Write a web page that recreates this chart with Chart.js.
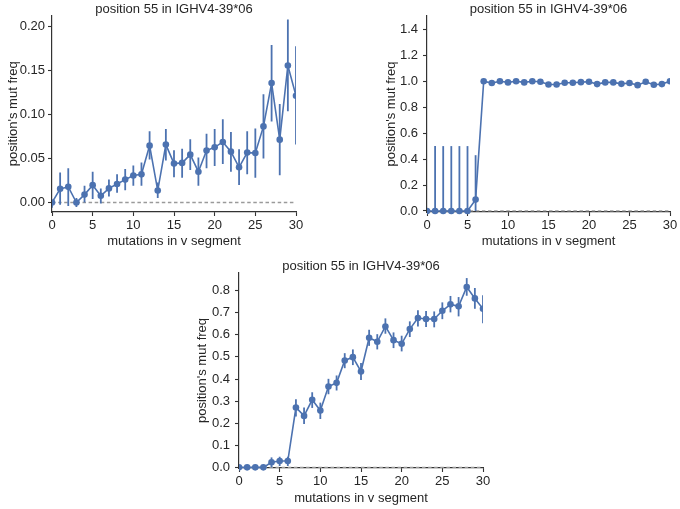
<!DOCTYPE html>
<html>
<head>
<meta charset="utf-8">
<script src="https://cdn.jsdelivr.net/npm/chart.js@4.4.1/dist/chart.umd.min.js"></script>
<style>
  html, body { margin: 0; padding: 0; background: #ffffff; }
  body { width: 680px; height: 509px; position: relative; overflow: hidden; }
  canvas { position: absolute; }
  #c1 { left: 0px; top: 0px; }
  #c2 { left: 378px; top: 0px; }
  #c3 { left: 185px; top: 253px; }
</style>
</head>
<body>
<canvas id="c1" width="310" height="252"></canvas>
<canvas id="c2" width="302" height="252"></canvas>
<canvas id="c3" width="315" height="256"></canvas>
<script>
// ---------------- data ----------------
const chartTitle = "position 55 in IGHV4-39*06";
const xLabel = "mutations in v segment";
const yLabel = "position's mut freq";

const mutations = [0,1,2,3,4,5,6,7,8,9,10,11,12,13,14,15,16,17,18,19,20,21,22,23,24,25,26,27,28,29,30];
const xTicks = [0,5,10,15,20,25,30];

// panel A (top left)
const freqA = [0,0.0155,0.0178,0,0.009,0.0197,0.0076,0.016,0.021,0.026,0.0306,0.032,0.0646,0.0136,0.0658,0.0442,0.045,0.0544,0.035,0.059,0.0627,0.0688,0.0578,0.040,0.0567,0.0563,0.0865,0.1357,0.0714,0.1557,0.1213];
const loA   = [-0.006,-0.0026,-0.004,-0.005,0,0.004,-0.001,0.0068,0.011,0.014,0.019,0.019,0.049,0.005,0.0476,0.0287,0.028,0.037,0.019,0.039,0.0416,0.0438,0.0348,0.020,0.032,0.028,0.050,0.092,0.031,0.1036,0.0658];
const hiA   = [0,0.034,0.039,0.005,0.019,0.035,0.016,0.026,0.032,0.038,0.042,0.0454,0.081,0.0227,0.0835,0.0593,0.061,0.0718,0.051,0.078,0.0835,0.0945,0.080,0.0605,0.081,0.084,0.123,0.179,0.112,0.208,0.1776];
const yTicksA = [0,0.05,0.10,0.15,0.20];

// panel B (top right)
const freqB = [0,0,0,0,0,0,0.0875,1.0,0.986,1.0,0.991,1.0,0.991,1.0,0.996,0.975,0.975,0.988,0.988,0.993,0.996,0.978,0.991,0.991,0.980,0.986,0.970,0.996,0.973,0.978,1.0];
const loB   = [0,0,0,0,0,0,0,0.995,0.978,0.995,0.983,0.995,0.983,0.995,0.988,0.965,0.965,0.979,0.979,0.985,0.988,0.968,0.983,0.983,0.971,0.977,0.959,0.988,0.962,0.968,0.995];
const hiB   = [0,0.5,0.5,0.5,0.5,0.5,0.43,1.0,0.993,1.0,0.998,1.0,0.998,1.0,1.0,0.984,0.984,0.996,0.996,1.0,1.0,0.987,0.998,0.998,0.989,0.994,0.980,1.0,0.983,0.987,1.0];
const yTicksB = [0,0.2,0.4,0.6,0.8,1.0,1.2,1.4];

// panel C (bottom)
const freqC = [0,0,0,0,0.0227,0.0287,0.0287,0.2707,0.233,0.3055,0.257,0.366,0.3826,0.484,0.499,0.434,0.5868,0.5686,0.638,0.576,0.5595,0.626,0.676,0.6715,0.6715,0.709,0.738,0.729,0.8166,0.765,0.718];
const loC   = [0,0,0,0,0,0.006,0.006,0.23,0.1966,0.269,0.219,0.331,0.348,0.449,0.463,0.396,0.550,0.534,0.605,0.540,0.525,0.590,0.638,0.635,0.634,0.671,0.7017,0.6836,0.777,0.718,0.653];
const hiC   = [0,0,0,0,0.045,0.048,0.048,0.3085,0.2707,0.340,0.293,0.4008,0.416,0.517,0.534,0.472,0.623,0.603,0.6745,0.611,0.596,0.661,0.711,0.708,0.706,0.747,0.776,0.771,0.857,0.812,0.779];
const yTicksC = [0,0.1,0.2,0.3,0.4,0.5,0.6,0.7,0.8];

// ---------------- style ----------------
const BLUE = '#4c72b0';
const TEXT = '#262626';
const AXIS = '#333333';
const FONT = "'Liberation Sans', Arial, sans-serif";

const errorBarPlugin = {
  id: 'errorBars',
  beforeDatasetsDraw(chart) {
    const {ctx, chartArea, scales} = chart;
    const x = scales.x, y = scales.y;
    ctx.save();
    ctx.beginPath();
    ctx.rect(chartArea.left, chartArea.top, chartArea.right - chartArea.left, chartArea.bottom - chartArea.top + 2);
    ctx.clip();
    // zero reference line
    ctx.strokeStyle = '#9a9a9a';
    ctx.lineWidth = 1.3;
    ctx.setLineDash([3.5, 2.6]);
    ctx.beginPath();
    const y0 = y.getPixelForValue(0);
    ctx.moveTo(x.getPixelForValue(x.min), y0);
    ctx.lineTo(x.getPixelForValue(x.max), y0);
    ctx.stroke();
    ctx.setLineDash([]);
    // error bars
    chart.data.datasets.forEach(ds => {
      ctx.strokeStyle = BLUE;
      ctx.lineWidth = 1.8;
      ds.data.forEach((pt, i) => {
        const lo = ds.errLo[i], hi = ds.errHi[i];
        if (lo === hi) return;
        const px = x.getPixelForValue(pt.x);
        ctx.beginPath();
        ctx.moveTo(px, y.getPixelForValue(lo));
        ctx.lineTo(px, y.getPixelForValue(hi));
        ctx.stroke();
      });
    });
    ctx.restore();
  }
};

function makeChart(id, freq, lo, hi, yTicks, yMin, yMax, decimals, lay) {
  const pts = mutations.map((m, i) => ({x: m, y: freq[i]}));
  return new Chart(document.getElementById(id), {
    type: 'line',
    data: {
      datasets: [{
        data: pts,
        errLo: lo,
        errHi: hi,
        borderColor: BLUE,
        backgroundColor: BLUE,
        borderWidth: 1.6,
        pointRadius: 3.3,
        pointBorderWidth: 0,
        pointBackgroundColor: BLUE,
        tension: 0,
        clip: {left: 0, top: 0, right: 0, bottom: 4}
      }]
    },
    options: {
      responsive: false,
      animation: false,
      events: [],
      layout: { padding: { left: 0, top: 0, right: lay.padRight, bottom: 0 } },
      plugins: {
        legend: { display: false },
        tooltip: { enabled: false },
        title: {
          display: true,
          fullSize: false,
          text: chartTitle,
          color: TEXT,
          font: { family: FONT, size: 13, weight: 'normal', lineHeight: 1 },
          padding: { top: lay.titleTop, bottom: 0 }
        }
      },
      scales: {
        x: {
          type: 'linear',
          min: 0, max: 30,
          afterBuildTicks: s => { s.ticks = xTicks.map(v => ({value: v})); },
          afterFit: s => { s.height = lay.xHeight; },
          ticks: { color: TEXT, font: { family: FONT, size: 13 }, padding: 1.5, maxRotation: 0,
                   callback: v => String(v) },
          grid: { display: true, drawOnChartArea: false, drawTicks: true, tickLength: 4, tickColor: AXIS, tickWidth: 1.1 },
          border: { display: true, color: AXIS, width: 1.2 },
          title: { display: true, text: xLabel, color: TEXT, font: { family: FONT, size: 13, lineHeight: 1.2 },
                   padding: { top: 0, bottom: 3 } }
        },
        y: {
          type: 'linear',
          min: yMin, max: yMax,
          afterBuildTicks: s => { s.ticks = yTicks.map(v => ({value: v})); },
          afterFit: s => { s.width = lay.yWidth; },
          ticks: { color: TEXT, font: { family: FONT, size: 13 }, padding: lay.yPad,
                   callback: v => Number(v).toFixed(decimals) },
          grid: { display: true, drawOnChartArea: false, drawTicks: true, tickLength: 4, tickColor: AXIS, tickWidth: 1.1 },
          border: { display: true, color: AXIS, width: 1.2 },
          title: { display: true, text: yLabel, color: TEXT, font: { family: FONT, size: 13, lineHeight: 1.2 },
                   padding: { top: lay.yTitlePad, bottom: 0 } }
        }
      }
    },
    plugins: [errorBarPlugin]
  });
}

makeChart('c1', freqA, loA, hiA, yTicksA, -0.0108, 0.2125, 2,
  { padRight: 14, titleTop: 2.5, xHeight: 40, yWidth: 52, yPad: 3, yTitlePad: 5.5 });
makeChart('c2', freqB, loB, hiB, yTicksB, -0.008, 1.503, 1,
  { padRight: 10, titleTop: 3, xHeight: 40, yWidth: 49, yPad: 5, yTitlePad: 6 });
makeChart('c3', freqC, loC, hiC, yTicksC, -0.003, 0.880, 1,
  { padRight: 17, titleTop: 7, xHeight: 41, yWidth: 54, yPad: 5, yTitlePad: 10 });
</script>
</body>
</html>
